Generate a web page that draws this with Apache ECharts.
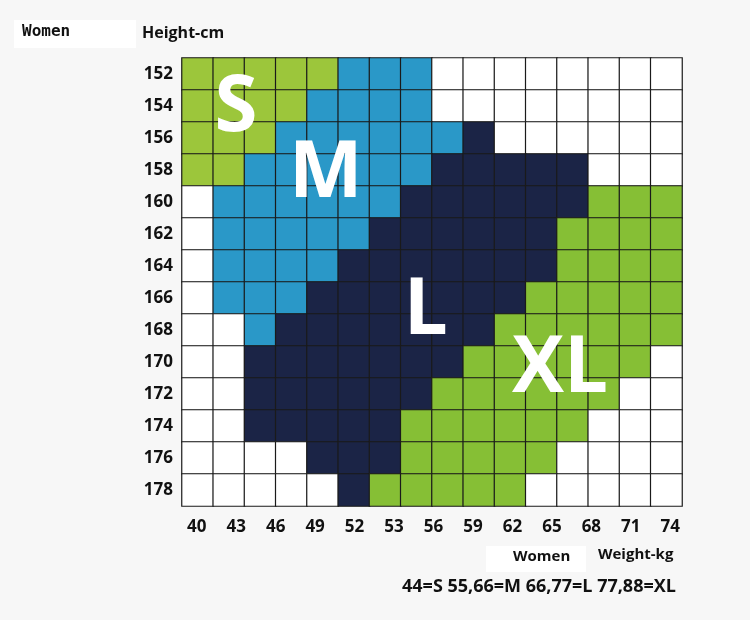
<!DOCTYPE html>
<html>
<head>
<meta charset="utf-8">
<script src="https://cdn.jsdelivr.net/npm/echarts@6/dist/echarts.min.js"></script>
<style>
html,body{margin:0;padding:0;background:#f7f7f7;}
#chart{width:750px;height:620px;}
</style>
</head>
<body>
<div id="chart"></div>
<script>
// Height rows (cm), top to bottom
var heights = ['152','154','156','158','160','162','164','166','168','170','172','174','176','178'];
// Weight tick labels (kg)
var weights = ['40','43','46','49','52','53','56','59','62','65','68','71','74'];
// 16 weight columns in the grid
var columns = ['c0','c1','c2','c3','c4','c5','c6','c7','c8','c9','c10','c11','c12','c13','c14','c15'];
// size codes: 0 = none, 1 = S, 2 = M, 3 = L, 4 = XL
var sizeNames = ['', 'S', 'M', 'L', 'XL'];
var sizeColors = ['#ffffff', '#9cc63b', '#2a98c8', '#1b2446', '#86bf35'];
var row152 = [1,1,1,1,1,2,2,2,0,0,0,0,0,0,0,0];
var row154 = [1,1,1,1,2,2,2,2,0,0,0,0,0,0,0,0];
var row156 = [1,1,1,2,2,2,2,2,2,3,0,0,0,0,0,0];
var row158 = [1,1,2,2,2,2,2,2,3,3,3,3,3,0,0,0];
var row160 = [0,2,2,2,2,2,2,3,3,3,3,3,3,4,4,4];
var row162 = [0,2,2,2,2,2,3,3,3,3,3,3,4,4,4,4];
var row164 = [0,2,2,2,2,3,3,3,3,3,3,3,4,4,4,4];
var row166 = [0,2,2,2,3,3,3,3,3,3,3,4,4,4,4,4];
var row168 = [0,0,2,3,3,3,3,3,3,3,4,4,4,4,4,4];
var row170 = [0,0,3,3,3,3,3,3,3,4,4,4,4,4,4,0];
var row172 = [0,0,3,3,3,3,3,3,4,4,4,4,4,4,0,0];
var row174 = [0,0,3,3,3,3,3,4,4,4,4,4,4,0,0,0];
var row176 = [0,0,0,0,3,3,3,4,4,4,4,4,0,0,0,0];
var row178 = [0,0,0,0,0,3,4,4,4,4,4,0,0,0,0,0];
var sizeRows = [row152,row154,row156,row158,row160,row162,row164,row166,row168,row170,row172,row174,row176,row178];
// Big size-letter annotations, in grid units (column, row)
var letterNames = ['S','M','L','XL'];
var letterCols = [1.73, 4.6, 7.8, 12.1];
var letterRows = [1.6, 3.65, 7.94, 9.75];

var cells = [];
sizeRows.forEach(function(row, r){
  row.forEach(function(code, c){
    cells.push({value:[c, r, code], itemStyle:{color:sizeColors[code]}});
  });
});
var letters = letterNames.map(function(n,i){ return {name:n, value:[letterCols[i], letterRows[i]]}; });

var chart = echarts.init(document.getElementById('chart'), null, {renderer:'canvas'});
var font = '"Open Sans", "DejaVu Sans", sans-serif';
chart.setOption({
  backgroundColor:'#f7f7f7',
  animation:false,
  grid:[
    {left:182, top:58, width:500, height:448},
    {left:177, top:58, width:513, height:448},
    {left:182, top:58, width:500, height:448}
  ],
  xAxis:[
    {type:'category', gridIndex:0, data:columns, axisLine:{show:false}, axisTick:{show:false}, axisLabel:{show:false}, splitLine:{show:false}},
    {type:'category', gridIndex:1, data:weights, position:'bottom', axisLine:{show:false}, axisTick:{show:false},
      axisLabel:{margin:13, color:'#111', fontSize:17, fontWeight:'bold', fontFamily:font}},
    {type:'value', gridIndex:2, min:0, max:16, show:false}
  ],
  yAxis:[
    {type:'category', gridIndex:0, data:heights, inverse:true, axisLine:{show:false}, axisTick:{show:false},
      axisLabel:{margin:9, color:'#111', fontSize:17, fontWeight:'bold', fontFamily:font}},
    {type:'category', gridIndex:1, data:heights, show:false},
    {type:'value', gridIndex:2, min:0, max:14, inverse:true, show:false}
  ],
  series:[
    {type:'heatmap', xAxisIndex:0, yAxisIndex:0, data:cells, z:2,
      itemStyle:{borderColor:'#1a1a1a', borderWidth:1.2}, emphasis:{disabled:true}},
    {type:'scatter', xAxisIndex:2, yAxisIndex:2, data:letters, symbolSize:0, silent:true, z:5,
      itemStyle:{opacity:1},
      label:{show:true, position:'inside', formatter:'{b}', color:'#ffffff', opacity:1, fontSize:78, fontWeight:'bold', fontFamily:font}}
  ],
  graphic:[
    {type:'rect', shape:{x:14, y:20, width:122, height:28}, style:{fill:'#ffffff'}},
    {type:'text', left:22, top:24, style:{text:'Women', fontSize:16, fontWeight:'bold', fontFamily:'"DejaVu Sans Mono", monospace', fill:'#111'}},
    {type:'text', left:142, top:25, style:{text:'Height-cm', fontSize:16, fontWeight:'bold', fontFamily:font, fill:'#111'}},
    {type:'rect', shape:{x:486, y:546, width:100, height:26}, style:{fill:'#ffffff'}},
    {type:'text', left:513, top:549, style:{text:'Women', fontSize:15, fontWeight:'bold', fontFamily:font, fill:'#111'}},
    {type:'text', left:598, top:547, style:{text:'Weight-kg', fontSize:15, fontWeight:'bold', fontFamily:font, fill:'#111'}},
    {type:'text', left:402, top:578, style:{text:'44=S 55,66=M 66,77=L 77,88=XL', fontSize:18, fontWeight:'bold', fontFamily:font, fill:'#111'}}
  ]
});
</script>
</body>
</html>
